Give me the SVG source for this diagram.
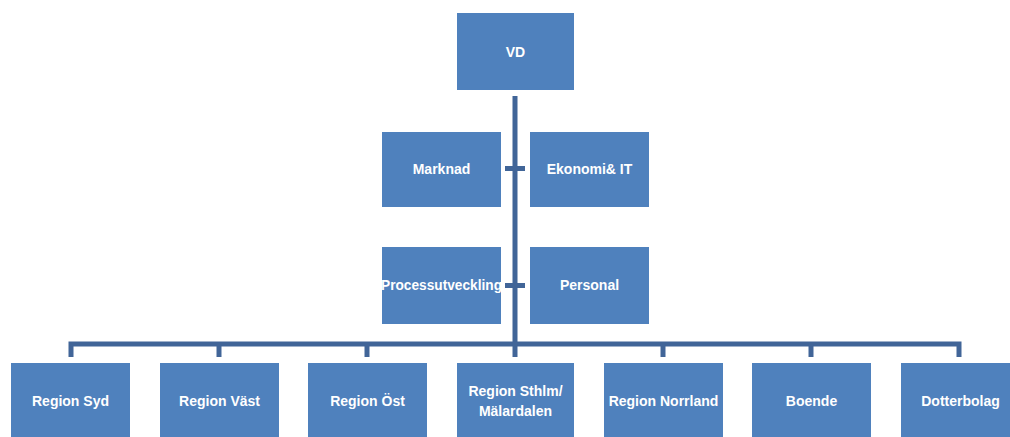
<svg xmlns="http://www.w3.org/2000/svg" width="1010" height="437" viewBox="0 0 1010 437">
  <style>
    .box { fill: #4F81BD; }
    .lbl { fill: #FFFFFF; font-family: "Liberation Sans", Arial, sans-serif; font-size: 14px; font-weight: bold; text-anchor: middle; dominant-baseline: central; }
    .wire { fill: none; stroke: #416598; stroke-width: 5; stroke-linecap: butt; }
  </style>
  <rect width="1010" height="437" fill="#FFFFFF"/>

  <!-- connectors -->
  <g id="connectors">
    <path class="wire" d="M515 96 V346"/>
    <path class="wire" d="M505 168.5 H525"/>
    <path class="wire" d="M505 285.5 H525"/>
    <path class="wire" d="M71 357 V344 H959 V357"/>
    <path class="wire" d="M219 344 V357"/>
    <path class="wire" d="M367 344 V357"/>
    <path class="wire" d="M515 344 V357"/>
    <path class="wire" d="M663 344 V357"/>
    <path class="wire" d="M811 344 V357"/>
  </g>

  <g id="vd">
    <rect class="box" x="457" y="13" width="117" height="77"/>
    <text class="lbl" x="515.5" y="52">VD</text>
  </g>

  <g id="marknad">
    <rect class="box" x="382" y="132" width="119" height="75"/>
    <text class="lbl" x="441.5" y="169">Marknad</text>
  </g>
  <g id="ekonomi-it">
    <rect class="box" x="530" y="132" width="119" height="75"/>
    <text class="lbl" x="589.5" y="169">Ekonomi&amp; IT</text>
  </g>

  <g id="processutveckling">
    <rect class="box" x="382" y="247" width="119" height="77"/>
    <text class="lbl" x="441.5" y="285" textLength="121" lengthAdjust="spacingAndGlyphs">Processutveckling</text>
  </g>
  <g id="personal">
    <rect class="box" x="530" y="247" width="119" height="77"/>
    <text class="lbl" x="589.5" y="285">Personal</text>
  </g>

  <g id="region-syd">
    <rect class="box" x="11" y="363" width="119" height="74"/>
    <text class="lbl" x="70.5" y="401">Region Syd</text>
  </g>
  <g id="region-vast">
    <rect class="box" x="160" y="363" width="119" height="74"/>
    <text class="lbl" x="219.5" y="401">Region Väst</text>
  </g>
  <g id="region-ost">
    <rect class="box" x="308" y="363" width="119" height="74"/>
    <text class="lbl" x="367.5" y="401">Region Öst</text>
  </g>
  <g id="region-sthlm">
    <rect class="box" x="457" y="363" width="117" height="74"/>
    <text class="lbl" x="515.5" y="391">Region Sthlm/</text>
    <text class="lbl" x="515.5" y="411">Mälardalen</text>
  </g>
  <g id="region-norrland">
    <rect class="box" x="604" y="363" width="119" height="74"/>
    <text class="lbl" x="663.5" y="401">Region Norrland</text>
  </g>
  <g id="boende">
    <rect class="box" x="752" y="363" width="119" height="74"/>
    <text class="lbl" x="811.5" y="401">Boende</text>
  </g>
  <g id="dotterbolag">
    <rect class="box" x="901" y="363" width="119" height="74"/>
    <text class="lbl" x="960.5" y="401">Dotterbolag</text>
  </g>
</svg>
